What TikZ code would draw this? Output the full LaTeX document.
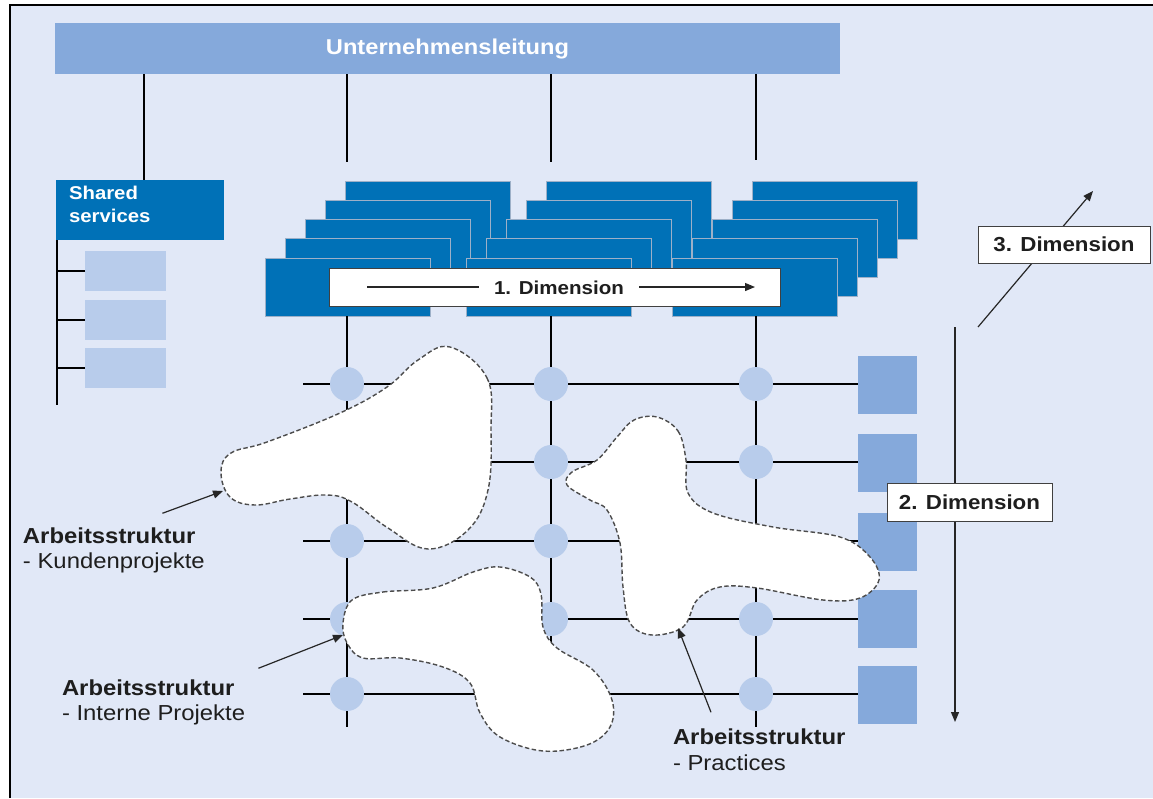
\documentclass[tikz,border=0pt]{standalone}
\usepackage{fontspec}
\setmainfont{Liberation Sans}[FakeStretch=1.1]
\usetikzlibrary{arrows.meta}
\definecolor{bgblue}{HTML}{E1E8F7}
\definecolor{midblue}{HTML}{85A9DB}
\definecolor{deepblue}{HTML}{0071B7}
\definecolor{paleblue}{HTML}{B8CCEB}
\definecolor{edgegrey}{HTML}{9DB0C8}
\definecolor{inkdark}{HTML}{1E1E1E}

\begin{document}
\begin{tikzpicture}[x=1pt,y=-1pt,
  every node/.style={inner sep=0pt, outer sep=0pt},
  leadbar/.style={fill=midblue, minimum width=785pt, minimum height=51pt, text=white,
    font=\fontsize{21.5}{24}\selectfont\bfseries},
  unitbox/.style={fill=deepblue, draw=edgegrey, line width=0.8pt, minimum width=165pt, minimum height=58pt, anchor=north west},
  svchead/.style={fill=deepblue, minimum width=168pt, minimum height=60pt, anchor=north west},
  svcbox/.style={fill=paleblue, minimum width=81pt, minimum height=40pt},
  hub/.style={circle, fill=paleblue, minimum size=34pt},
  rowbox/.style={fill=midblue, minimum width=59pt, minimum height=58pt},
  dimframe/.style={fill=white, draw=black!75, line width=0.9pt},
  dimtext/.style={text=inkdark, font=\fontsize{20.3}{24}\selectfont\bfseries},
  heavy/.style={line width=2.8pt, draw=black},
  light/.style={line width=1.5pt, draw=black},
  blob/.style={fill=white, draw=black!70, line width=1.4pt, dash pattern=on 4.5pt off 2.5pt},
  pointer/.style={line width=1.2pt, draw=black!85, -{Triangle[length=10pt,width=8pt]}},
  tagbold/.style={anchor=base west, text=inkdark, font=\fontsize{21.7}{25}\selectfont\bfseries},
  tagplain/.style={anchor=base west, text=inkdark, font=\fontsize{21.7}{25}\selectfont}]

% canvas and frame
\useasboundingbox (0,0) rectangle (1153,798);
\fill[white] (0,0) rectangle (1153,798);
\fill[bgblue] (10,5) rectangle (1153,798);
\draw[line width=2pt] (10,798) -- (10,5) -- (1153,5);

% management bar
\node[leadbar, anchor=north west] (lead) at (55,23) {Unternehmensleitung};

% shared services
\node[svchead] (ss) at (56,180) {};
\node[anchor=north west, align=left, text=white,
      font=\fontsize{18.5}{23}\selectfont\bfseries] (sstext) at (69,186) {Shared\\services};
\node[svcbox] (s1) at (125.5,271) {};
\node[svcbox] (s2) at (125.5,320) {};
\node[svcbox] (s3) at (125.5,368) {};
\coordinate (spine) at (57,405);
\draw[light] ([xshift=4pt]ss.north |- lead.south) -- ([xshift=4pt]ss.north);
\draw[heavy] (spine |- ss.south) -- (spine);
\draw[heavy] (s1.west) -- (s1.west -| spine);
\draw[heavy] (s2.west) -- (s2.west -| spine);
\draw[light] (s3.west) -- (s3.west -| spine);

% connectors from the bar towards the units
\coordinate (t1) at (347,162);
\coordinate (t2) at (551,162);
\coordinate (t3) at (756,160);
\draw[heavy] (t1 |- lead.south) -- (t1);
\draw[heavy] (t2 |- lead.south) -- (t2);
\draw[light] (t3 |- lead.south) -- (t3);

% stacked business units, back layer first
\foreach \k in {4,3,2,1,0}{
  \foreach \g/\gx in {1/265,2/466,3/672}{
    \node[unitbox] (b\g-\k) at ({\gx+20*\k},{258-19.25*\k}) {};
  }
}

% first dimension
\node[dimframe, minimum width=451pt, minimum height=38pt] (d1box) at (554.5,287) {};
\draw[pointer] ([xshift=38pt]d1box.west) -- ([xshift=-25pt]d1box.east);
\node[dimtext, fill=white, inner xsep=15pt, inner ysep=4pt,
      font=\fontsize{18.7}{22}\selectfont\bfseries] (d1) at (559,288) {1. Dimension};

% matrix grid
\node[rowbox] (q1) at (887.5,384.5) {};
\node[rowbox] (q2) at (887.5,462.5) {};
\node[rowbox] (q3) at (887.5,541.5) {};
\node[rowbox] (q4) at (887.5,619) {};
\node[rowbox] (q5) at (887.5,695) {};
\coordinate (col1) at (347,727);
\coordinate (col2) at (551,727);
\coordinate (col3) at (756,727);
\draw[heavy] (col1 |- b1-0.south) -- (col1);
\draw[heavy] (col2 |- b2-0.south) -- (col2);
\draw[line width=2pt] (col3 |- b3-0.south) -- (col3);
\foreach \r/\y in {1/384,2/462,3/541,4/619,5/694}{
  \coordinate (row\r) at (303,\y);
  \draw[heavy] (row\r) -- (row\r -| q\r.west);
  \foreach \c in {1,2,3}{
    \node[hub] (n\c-\r) at (col\c |- row\r) {};
  }
}

% working structures
\draw[blob] plot[smooth cycle, tension=0.65] coordinates {
  (450,347) (487,378) (491,430) (488,490) (468,530) (428,549) (388,528)
  (352,502) (327,495) (290,499) (255,505) (230,497) (221,472) (231,453)
  (267,442) (340,413) (387,387) (418,360)};
\draw[blob] plot[smooth cycle, tension=0.6] coordinates {
  (657,417) (678,431) (686,460) (688,493) (713,513) (773,527) (840,537)
  (870,557) (879,580) (860,598) (823,600) (757,588) (720,587) (697,600)
  (683,627) (652,635) (630,623) (623,587) (620,543) (607,510) (590,500)
  (567,485) (572,472) (597,460) (617,437) (634,420)};
\draw[blob] plot[smooth cycle, tension=0.6] coordinates {
  (352,600) (383,592) (433,588) (473,572) (500,567) (530,577) (541,594)
  (543,627) (557,648) (593,670) (612,700) (610,727) (587,745) (543,751)
  (500,737) (480,713) (470,683) (443,667) (400,658) (363,658) (347,643)
  (343,623)};

% second dimension
\coordinate (d2s) at (955,327);
\coordinate (d2e) at (955,722);
\draw[pointer] (d2s) -- (d2e);
\node[dimframe, minimum width=165pt, minimum height=38pt] (d2box) at (969.5,502) {};
\node[dimtext] (d2) at (d2box.center) {2. Dimension};

% third dimension
\coordinate (d3s) at (978,327);
\coordinate (d3e) at (1093,191);
\draw[pointer] (d3s) -- (d3e);
\node[dimframe, minimum width=172pt, minimum height=37pt] (d3box) at (1064,244.5) {};
\node[dimtext] (d3) at (d3box.center) {3. Dimension};

% annotations
\node[tagbold] (k1) at (23,543) {Arbeitsstruktur};
\node[tagplain] (k2) at (23,568) {- Kundenprojekte};
\coordinate (kTip) at (223,491);
\draw[pointer] ([shift={(-33pt,14pt)}]k1.north east) -- (kTip);

\node[tagbold] (k3) at (62,695) {Arbeitsstruktur};
\node[tagplain] (k4) at (62,720) {- Interne Projekte};
\coordinate (iTip) at (343,635);
\draw[pointer] ([shift={(24pt,11pt)}]k3.north east) -- (iTip);

\node[tagbold] (k5) at (673,744) {Arbeitsstruktur};
\node[tagplain] (k6) at (673,770) {- Practices};
\coordinate (pTip) at (678,628);
\draw[pointer] ([shift={(38pt,16pt)}]k5.north west) -- (pTip);

\end{tikzpicture}
\end{document}
